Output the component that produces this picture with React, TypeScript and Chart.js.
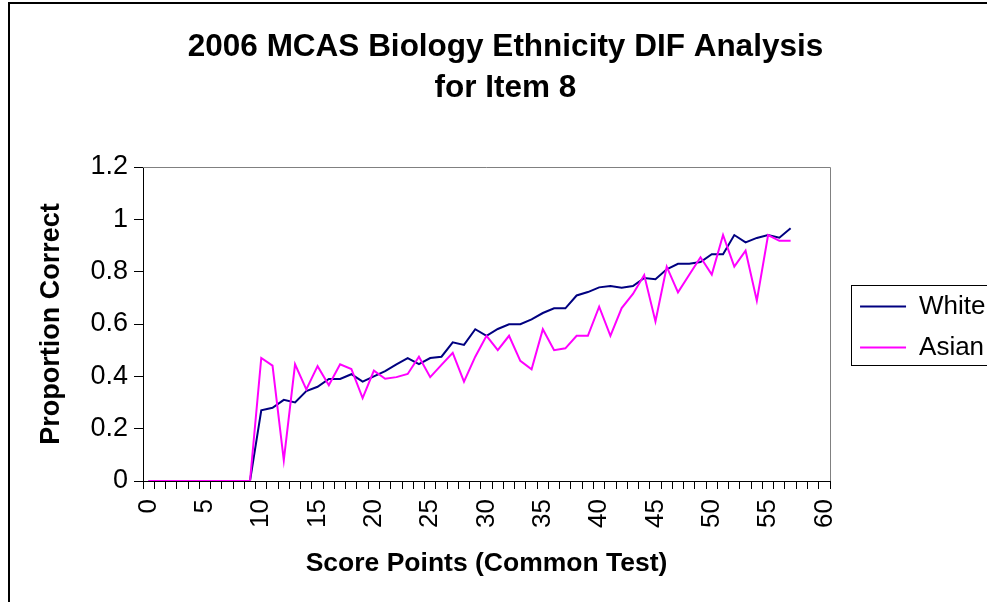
import React, { useEffect, useRef } from 'react';
import { Chart, registerables } from 'chart.js';

Chart.register(...registerables);

const titleLines = ['2006 MCAS Biology Ethnicity DIF Analysis', 'for Item 8'];
const xAxisTitle = 'Score Points (Common Test)';
const yAxisTitle = 'Proportion Correct';

const scoreLabels = [
  '0', '1', '2', '3', '4', '5', '6', '7', '8', '9',
  '10', '11', '12', '13', '14', '15', '16', '17', '18', '19',
  '20', '21', '22', '23', '24', '25', '26', '27', '28', '29',
  '30', '31', '32', '33', '34', '35', '36', '37', '38', '39',
  '40', '41', '42', '43', '44', '45', '46', '47', '48', '49',
  '50', '51', '52', '53', '54', '55', '56', '57', '58', '59', '60',
];

const whiteValues = [
  0, 0, 0, 0, 0, 0, 0, 0, 0, 0,
  0.27, 0.28, 0.31, 0.30, 0.344, 0.36, 0.39, 0.39, 0.408, 0.38,
  0.40, 0.42, 0.446, 0.47, 0.447, 0.47, 0.475, 0.53, 0.52, 0.58,
  0.555, 0.581, 0.599, 0.599, 0.618, 0.642, 0.66, 0.66, 0.709, 0.722,
  0.74, 0.745, 0.739, 0.745, 0.776, 0.771, 0.809, 0.83, 0.83, 0.837,
  0.867, 0.867, 0.94, 0.912, 0.929, 0.94, 0.93, 0.966,
];

const asianValues = [
  0, 0, 0, 0, 0, 0, 0, 0, 0, 0,
  0.47, 0.441, 0.079, 0.446, 0.35, 0.439, 0.366, 0.446, 0.428, 0.317,
  0.422, 0.391, 0.397, 0.409, 0.475, 0.397, 0.444, 0.49, 0.38, 0.475,
  0.555, 0.50, 0.555, 0.459, 0.427, 0.58, 0.50, 0.507, 0.555, 0.555,
  0.666, 0.555, 0.661, 0.715, 0.787, 0.61, 0.819, 0.721, 0.788, 0.855,
  0.789, 0.94, 0.819, 0.88, 0.689, 0.94, 0.918, 0.918,
];

const FONT = "'Liberation Sans', Arial, Helvetica, sans-serif";

const decorPlugin = {
  id: 'decor',
  afterLayout(chart: any) {
    const lg = chart.legend;
    if (lg) {
      lg.top += 3;
      lg.bottom += 3;
    }
  },
  beforeDraw(chart: any) {
    const ctx = chart.ctx;
    ctx.save();
    ctx.strokeStyle = '#000';
    ctx.lineWidth = 2;
    ctx.strokeRect(9, 3, 3000, 3000);
    ctx.restore();
  },
  beforeDatasetsDraw(chart: any) {
    const { ctx, chartArea: a } = chart;
    ctx.save();
    ctx.strokeStyle = '#808080';
    ctx.lineWidth = 1;
    ctx.beginPath();
    ctx.moveTo(Math.round(a.left), Math.round(a.top) + 0.5);
    ctx.lineTo(Math.round(a.right) + 0.5, Math.round(a.top) + 0.5);
    ctx.lineTo(Math.round(a.right) + 0.5, Math.round(a.bottom));
    ctx.stroke();
    ctx.restore();
  },
  afterDraw(chart: any) {
    const lg = chart.legend;
    if (!lg || !lg.legendHitBoxes || !lg.legendHitBoxes.length) return;
    const hb = lg.legendHitBoxes;
    const first = hb[0];
    const last = hb[hb.length - 1];
    const ctx = chart.ctx;
    const left = Math.round(first.left - 9) + 0.5;
    const top = Math.round(first.top - 9) + 0.5;
    const bottom = Math.round(last.top + last.height + 4) + 0.5;
    ctx.save();
    ctx.strokeStyle = '#000';
    ctx.lineWidth = 1;
    ctx.strokeRect(left, top, 400, bottom - top);
    ctx.restore();
  },
};

export default function App() {
  const canvasRef = useRef<HTMLCanvasElement | null>(null);

  useEffect(() => {
    const canvas = canvasRef.current;
    if (!canvas) return;
    Chart.defaults.color = '#000';
    const chart = new Chart(canvas, {
      type: 'line',
      data: {
        labels: scoreLabels,
        datasets: [
          {
            label: 'White',
            data: whiteValues,
            borderColor: '#000080',
            backgroundColor: '#000080',
            borderWidth: 2,
            pointRadius: 0,
            tension: 0,
            fill: false,
            order: 1,
          },
          {
            label: 'Asian',
            data: asianValues,
            borderColor: '#FF00FF',
            backgroundColor: '#FF00FF',
            borderWidth: 2,
            pointRadius: 0,
            tension: 0,
            fill: false,
            order: 0,
          },
        ],
      },
      options: {
        responsive: false,
        animation: false,
        events: [],
        layout: { padding: { left: 15.5, right: 4.5, top: 0, bottom: 0 } },
        plugins: {
          title: {
            display: true,
            text: titleLines,
            color: '#000',
            font: { family: FONT, size: 31.5, weight: 'bold', lineHeight: 1.3 },
            padding: { top: 26.5, bottom: 58.6 },
          },
          legend: {
            position: 'right',
            fullSize: false,
            labels: {
              color: '#000',
              font: { family: FONT, size: 26 },
              boxWidth: 46,
              boxHeight: 2,
              padding: 15,
              sort: (a: any, b: any) => a.datasetIndex - b.datasetIndex,
              generateLabels(chart: any) {
                const base = Chart.defaults.plugins.legend.labels.generateLabels(chart);
                return base.map((l: any) => ({ ...l, lineWidth: 0 }));
              },
            },
          },
          tooltip: { enabled: false },
        },
        scales: {
          x: {
            type: 'category',
            offset: true,
            grid: {
              offset: true,
              drawOnChartArea: false,
              color: '#000',
              tickColor: '#000',
              tickLength: 8,
            },
            border: { color: '#000', width: 1 },
            ticks: {
              autoSkip: false,
              minRotation: 90,
              maxRotation: 90,
              padding: 10,
              color: '#000',
              font: { family: FONT, size: 26 },
              callback: (_v: any, i: number) => (i % 5 === 0 ? scoreLabels[i] : ''),
            },
            title: {
              display: true,
              text: xAxisTitle,
              color: '#000',
              font: { family: FONT, size: 26.5, weight: 'bold' },
              padding: { top: 0, bottom: 22 },
            },
            afterFit(s: any) {
              s.height = 121;
            },
          },
          y: {
            type: 'linear',
            min: 0,
            max: 1.2,
            ticks: {
              stepSize: 0.2,
              padding: 6,
              color: '#000',
              font: { family: FONT, size: 27 },
              callback: (v: any) => String(Math.round(Number(v) * 10) / 10),
            },
            grid: {
              drawOnChartArea: false,
              color: '#000',
              tickColor: '#000',
              tickLength: 9,
            },
            border: { color: '#000', width: 1 },
            title: {
              display: true,
              text: yAxisTitle,
              color: '#000',
              font: { family: FONT, size: 27, weight: 'bold' },
              padding: { top: 20, bottom: 0 },
            },
            afterFit(s: any) {
              s.width = 127.5;
            },
          },
          gap: {
            type: 'linear',
            position: 'right',
            display: true,
            grid: { display: false },
            border: { display: false },
            ticks: { display: false },
            afterFit(s: any) {
              s.width = 15;
            },
          },
        },
      } as any,
      plugins: [decorPlugin],
    });
    return () => chart.destroy();
  }, []);

  return (
    <div
      style={{
        position: 'fixed',
        left: 0,
        top: 0,
        width: 987,
        height: 602,
        overflow: 'hidden',
        background: '#fff',
      }}
    >
      <canvas ref={canvasRef} width={1000} height={602} style={{ display: 'block' }} />
    </div>
  );
}
